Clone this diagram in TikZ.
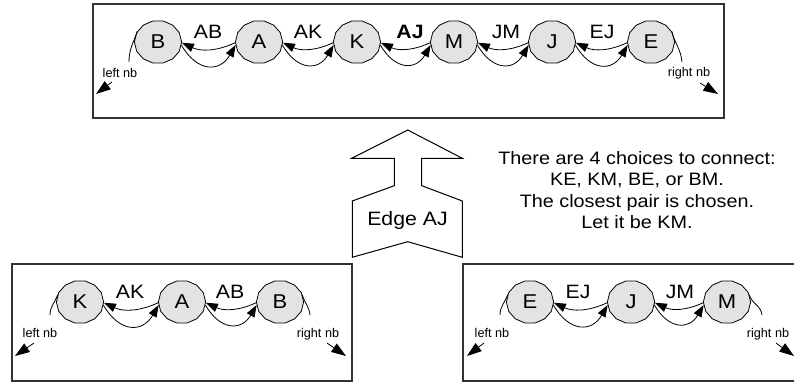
\documentclass[tikz,border=0pt]{standalone}
\usepackage{fontspec}
\setmainfont{Liberation Sans}
\newfontfamily\widesans{Liberation Sans}[FakeStretch=1.1]
\usetikzlibrary{arrows.meta,shapes.geometric}

\tikzset{
  nd/.style={regular polygon, regular polygon sides=14, minimum size=32.25pt,
    inner sep=0pt, draw=black, line width=0.6pt, fill=black!11,
    font=\fontsize{15}{17}\selectfont},
  elab/.style={font=\widesans\fontsize{14.5}{16}\selectfont, inner sep=0pt},
  bigtxt/.style={font=\widesans\fontsize{13.5}{16.1}\selectfont, inner sep=0pt},
  nbtxt/.style={font=\fontsize{9.5}{11}\selectfont, inner sep=0pt},
  arr/.style={-{Triangle[length=9pt,width=6.5pt]}, line width=0.6pt},
  nbarr/.style={-{Triangle[length=11pt,width=7.5pt]}, line width=0.6pt},
  nbline/.style={line width=0.6pt},
  frame/.style={draw=black!80, line width=1.1pt},
  bigarrow/.style={draw=black, line width=0.75pt, fill=white},
}

\newcommand\mknode[4]{%
  \begin{scope}[shift={(#2,#3)},xscale=1.1,transform shape]
    \node[nd] (#1) at (0,0) {#4};
  \end{scope}}
\newcommand\arcpair[2]{%
  \draw[arr] (#2.182) to[bend left=25] (#1.-2);
  \draw[arr] (#1.-8) to[out=-60,in=-120,looseness=1.5] (#2.188);}

\begin{document}
\begin{tikzpicture}[x=0.75pt,y=0.75pt]
\useasboundingbox (0,0) rectangle (794,-384);

% ---------- frames ----------
\draw[frame] (93,-4) rectangle (724,-118);
\draw[frame] (12,-264) rectangle (352,-381);
\draw[frame] (463,-264) rectangle (800,-381);

% ---------- top row ----------
\mknode{tB}{158}{-42}{B}
\mknode{tA}{259}{-42}{A}
\mknode{tK}{357}{-42}{K}
\mknode{tM}{454}{-42}{M}
\mknode{tJ}{552}{-42}{J}
\mknode{tE}{651}{-42}{E}
\arcpair{tB}{tA}
\arcpair{tA}{tK}
\arcpair{tK}{tM}
\arcpair{tM}{tJ}
\arcpair{tJ}{tE}
\node[elab] (tlAB) at (208,-32) {AB};
\node[elab] (tlAK) at (308,-32) {AK};
\node[elab] (tlAJ) at (410,-32) {\bfseries AJ};
\node[elab] (tlJM) at (506,-32) {JM};
\node[elab] (tlEJ) at (602,-32) {EJ};

\coordinate (tLend) at (129,-62);
\coordinate (tRend) at (682,-62);
\draw[nbline] (tB.150) to[out=250,in=90] (tLend);
\draw[nbline] (tE.30) to[out=-75,in=95] (tRend);
\node[nbtxt] (tLt) at (120,-73) {left nb};
\node[nbtxt,anchor=base] (tRt) at (689,-76.6) {right nb};
\coordinate (tLa1) at (112,-82);
\coordinate (tLa2) at (96,-94);
\coordinate (tRa1) at (700,-83);
\coordinate (tRa2) at (718,-94);
\draw[nbarr] (tLa1) -- (tLa2);
\draw[nbarr] (tRa1) -- (tRa2);

% ---------- big arrow ----------
\draw[bigarrow] (407.7,-130) -- (462.3,-158.3) -- (421.7,-158.3) -- (421.7,-185.7)
  -- (462.3,-201) -- (462.3,-257.3) -- (407.7,-241.7) -- (352.3,-257.3)
  -- (352.3,-201) -- (394.3,-185.7) -- (394.3,-158.3) -- (351.7,-158.3) -- cycle;
\node[elab,anchor=base] (edge) at (407.5,-225.5) {Edge AJ};

% ---------- note ----------
\node[bigtxt,align=center] (note) at (637,-190)
  {There are 4 choices to connect:\\KE, KM, BE, or BM.\\The closest pair is chosen.\\Let it be KM.};

% ---------- lower left ----------
\mknode{lK}{80}{-302}{K}
\mknode{lA}{182}{-302}{A}
\mknode{lB}{280}{-302}{B}
\arcpair{lK}{lA}
\arcpair{lA}{lB}
\node[elab] (llAK) at (130,-292) {AK};
\node[elab] (llAB) at (230,-292) {AB};
\coordinate (lLend) at (50,-315);
\coordinate (lRend) at (310,-315);
\draw[nbline] (lK.160) to[out=250,in=90] (lLend);
\draw[nbline] (lB.20) to[out=-75,in=95] (lRend);
\node[nbtxt] (lLt) at (40,-333) {left nb};
\node[nbtxt,anchor=base] (lRt) at (318,-337.6) {right nb};
\coordinate (lLa1) at (34,-343);
\coordinate (lLa2) at (15,-356);
\coordinate (lRa1) at (327,-343);
\coordinate (lRa2) at (346,-356);
\draw[nbarr] (lLa1) -- (lLa2);
\draw[nbarr] (lRa1) -- (lRa2);

% ---------- lower right ----------
\mknode{rE}{530}{-302}{E}
\mknode{rJ}{631}{-302}{J}
\mknode{rM}{727}{-302}{M}
\arcpair{rE}{rJ}
\arcpair{rJ}{rM}
\node[elab] (rlEJ) at (578,-292) {EJ};
\node[elab] (rlJM) at (680,-292) {JM};
\coordinate (rLend) at (500,-315);
\coordinate (rRend) at (762,-315);
\draw[nbline] (rE.160) to[out=250,in=90] (rLend);
\draw[nbline] (rM.20) to[out=-75,in=95] (rRend);
\node[nbtxt] (rLt) at (492,-333) {left nb};
\node[nbtxt,anchor=base] (rRt) at (768,-337.6) {right nb};
\coordinate (rLa1) at (484,-343);
\coordinate (rLa2) at (467,-356);
\coordinate (rRa1) at (776,-343);
\coordinate (rRa2) at (794,-356);
\draw[nbarr] (rLa1) -- (rLa2);
\draw[nbarr] (rRa1) -- (rRa2);
\end{tikzpicture}
\end{document}
